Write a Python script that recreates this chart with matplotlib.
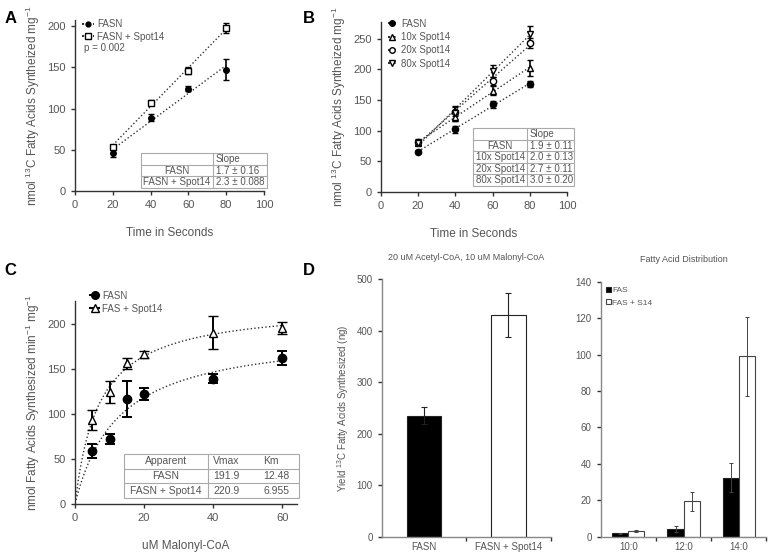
import numpy as np
import matplotlib
matplotlib.use('Agg')
import matplotlib.pyplot as plt
from matplotlib.patches import Rectangle

plt.rcParams['font.family'] = ['Liberation Sans', 'DejaVu Sans']
plt.rcParams['mathtext.fontset'] = 'custom'
plt.rcParams['mathtext.rm'] = 'Liberation Sans'

TXT = '#555555'
AX = '#333333'
GRID = '#aaaaaa'

# ---- data ----
# A: time course
a_time = [20, 40, 60, 80]
a_fasn = [46, 89, 124, 147]
a_fasn_err = [5, 4, 3, 13]
a_spot = [54, 107, 146, 197]
a_spot_err = [2, 3, 4, 6]
a_table = [['', 'Slope'], ['FASN', '1.7 ± 0.16'], ['FASN + Spot14', '2.3 ± 0.088']]

# B: titration of Spot14
b_time = [20, 40, 60, 80]
b_names = ['FASN', '10x Spot14', '20x Spot14', '80x Spot14']
b_vals = [[66, 102, 143, 176],
          [80, 123, 165, 202],
          [82, 131, 181, 243],
          [80, 128, 197, 258]]
b_errs = [[3, 5, 6, 5],
          [4, 8, 7, 13],
          [5, 7, 7, 8],
          [4, 12, 10, 12]]
b_table = [['', 'Slope'], ['FASN', '1.9 ± 0.11'], ['10x Spot14', '2.0 ± 0.13'],
           ['20x Spot14', '2.7 ± 0.11'], ['80x Spot14', '3.0 ± 0.20']]

# C: Michaelis-Menten
c_conc = [5, 10, 15, 20, 40, 60]
c_fasn = [59, 72, 116, 122, 139, 162]
c_fasn_err = [8, 6, 20, 7, 5, 8]
c_spot = [93, 124, 156, 166, 190, 195]
c_spot_err = [11, 12, 6, 4, 18, 7]
c_vmax = [191.9, 220.9]
c_km = [12.48, 6.955]

# D: yields
d_names = ['FASN', 'FASN + Spot14']
d_yield = [235, 430]
d_yield_err = [17, 42]
d_fa = ['10:0', '12:0', '14:0']
d_fas = [2, 4.5, 32.5]
d_fas_err = [0.4, 1.5, 8]
d_s14 = [3.2, 19.5, 99]
d_s14_err = [0.6, 5, 21.5]


def style(ax):
    for s in ['top', 'right']:
        ax.spines[s].set_visible(False)
    for s in ['left', 'bottom']:
        ax.spines[s].set_color(AX)
        ax.spines[s].set_linewidth(1.0)
    ax.tick_params(colors=AX, labelcolor=TXT, labelsize=8, length=3, width=1.0)


def draw_table(ax, rows, x0, x1, xsplit, y0, y1, col_x=None, fs=7):
    n = len(rows)
    ax.add_patch(Rectangle((x0, y0), x1 - x0, y1 - y0, transform=ax.transAxes,
                           facecolor='white', edgecolor=GRID, lw=0.8, clip_on=False, zorder=5))
    rh = (y1 - y0) / n
    for i in range(1, n):
        ax.plot([x0, x1], [y0 + i * rh] * 2, color=GRID, lw=0.8, transform=ax.transAxes,
                clip_on=False, zorder=6)
    ax.plot([xsplit, xsplit], [y0, y1], color=GRID, lw=0.8, transform=ax.transAxes,
            clip_on=False, zorder=6)
    if col_x is None:
        col_x = [xsplit + 0.015]
    for i, row in enumerate(rows):
        yc = y1 - (i + 0.5) * rh
        ax.text((x0 + xsplit) / 2, yc, row[0], ha='center', va='center', fontsize=fs,
                color=TXT, transform=ax.transAxes, zorder=7)
        for cx, val in zip(col_x, row[1:]):
            ax.text(cx, yc, val, ha='left', va='center', fontsize=fs, color=TXT,
                    transform=ax.transAxes, zorder=7)


fig = plt.figure(figsize=(7.68, 5.59), dpi=100)

# ---------- A ----------
axA = fig.add_axes([0.0977, 0.658, 0.246, 0.306])
style(axA)
ta = np.array(a_time)
for y, e, mk, mfc, lab in [(a_fasn, a_fasn_err, 'o', 'black', 'FASN'),
                           (a_spot, a_spot_err, 's', 'white', 'FASN + Spot14')]:
    p = np.polyfit(ta, y, 1)
    axA.plot(ta, np.polyval(p, ta), ':', color='#333333', lw=1.0)
    axA.errorbar(ta, y, yerr=e, fmt=mk, ms=4 if mk == 'o' else 5, mfc=mfc, mec='black',
                 mew=1.0, ecolor='black', elinewidth=1.2, capsize=2.5, capthick=1.2, zorder=3)
hA = [plt.Line2D([], [], ls=':', color='#333', marker='o', ms=3.5, mfc='black', mec='black'),
      plt.Line2D([], [], ls=':', color='#333', marker='s', ms=4.5, mfc='white', mec='black')]
axA.legend(hA, ['FASN', 'FASN + Spot14'], loc='upper left', bbox_to_anchor=(0.0, 1.045),
           frameon=False, fontsize=7, handlelength=1.2, handletextpad=0.4, labelcolor=TXT,
           borderaxespad=0.3, labelspacing=0.25)
axA.text(0.05, 0.82, 'p = 0.002', transform=axA.transAxes, fontsize=7, color=TXT)
axA.set_xlim(0, 100)
axA.set_ylim(0, 207)
axA.set_xticks([0, 20, 40, 60, 80, 100])
axA.set_yticks([0, 50, 100, 150, 200])
axA.set_xlabel('Time in Seconds', fontsize=8.5, color=TXT, labelpad=12)
axA.set_ylabel(r'nmol $^{13}$C Fatty Acids Syntheized mg$^{-1}$', fontsize=8.5, color=TXT)
draw_table(axA, a_table, 0.349, 1.016, 0.730, 0.018, 0.222)

# ---------- B ----------
axB = fig.add_axes([0.4958, 0.6565, 0.2426, 0.304])
style(axB)
tb = np.array(b_time)
b_marks = [('o', 'black'), ('^', 'white'), ('o', 'white'), ('v', 'white')]
hB = []
for vals, errs, (mk, mfc) in zip(b_vals, b_errs, b_marks):
    p = np.polyfit(tb, vals, 1)
    axB.plot(tb, np.polyval(p, tb), ':', color='#333333', lw=1.0)
    axB.errorbar(tb, vals, yerr=errs, fmt=mk, ms=4.5, mfc=mfc, mec='black', mew=1.0,
                 ecolor='black', elinewidth=1.2, capsize=2.5, capthick=1.2, zorder=3)
    hB.append(plt.Line2D([], [], ls=':', color='#333', marker=mk, ms=4, mfc=mfc, mec='black'))
axB.legend(hB, b_names, loc='upper left', bbox_to_anchor=(0.0, 1.06), frameon=False,
           fontsize=7, handlelength=1.0, handletextpad=0.4, labelcolor=TXT,
           borderaxespad=0.3, labelspacing=0.35)
axB.set_xlim(0, 100)
axB.set_ylim(0, 277)
axB.set_xticks([0, 20, 40, 60, 80, 100])
axB.set_yticks([0, 50, 100, 150, 200, 250])
axB.set_xlabel('Time in Seconds', fontsize=8.5, color=TXT, labelpad=12)
axB.set_ylabel(r'nmol $^{13}$C Fatty Acids Syntheized mg$^{-1}$', fontsize=8.5, color=TXT)
draw_table(axB, b_table, 0.496, 1.039, 0.786, 0.035, 0.376)

# ---------- C ----------
axC = fig.add_axes([0.0977, 0.0984, 0.289, 0.363])
style(axC)
xs = np.linspace(0.3, 60, 200)
for vm, km in zip(c_vmax, c_km):
    axC.plot(xs, vm * xs / (km + xs), ':', color='#333333', lw=1.0)
axC.errorbar(c_conc, c_fasn, yerr=c_fasn_err, fmt='o', ms=6, mfc='black', mec='black',
             ecolor='black', elinewidth=1.4, capsize=3.5, capthick=1.4, zorder=3)
axC.errorbar(c_conc, c_spot, yerr=c_spot_err, fmt='^', ms=6, mfc='white', mec='black', mew=1.0,
             ecolor='black', elinewidth=1.4, capsize=3.5, capthick=1.4, zorder=3)
hC = [plt.Line2D([], [], ls='-', color='black', marker='o', ms=5.5, mfc='black', mec='black'),
      plt.Line2D([], [], ls='-', color='black', marker='^', ms=5.5, mfc='white', mec='black')]
axC.legend(hC, ['FASN', 'FAS + Spot14'], loc='upper left', bbox_to_anchor=(0.04, 1.08),
           frameon=False, fontsize=7, handlelength=1.0, handletextpad=0.3, labelcolor=TXT,
           borderaxespad=0.2, labelspacing=0.3)
axC.set_xlim(0, 64.3)
axC.set_ylim(0, 225)
axC.set_xticks([0, 20, 40, 60])
axC.set_yticks([0, 50, 100, 150, 200])
axC.set_xlabel('uM Malonyl-CoA', fontsize=8.5, color=TXT, labelpad=12)
axC.set_ylabel(r'nmol Fatty Acids Synthesized min$^{-1}$ mg$^{-1}$', fontsize=8.5, color=TXT)
c_table = [['Apparent', 'Vmax', 'Km'],
           ['FASN', f'{c_vmax[0]:.1f}', f'{c_km[0]:.2f}'],
           ['FASN + Spot14', f'{c_vmax[1]:.1f}', f'{c_km[1]:.3f}']]
draw_table(axC, c_table, 0.221, 1.009, 0.599, 0.030, 0.246, col_x=[0.622, 0.847], fs=7.5)

# ---------- D left ----------
axD1 = fig.add_axes([0.497, 0.0394, 0.22, 0.4615])
style(axD1)
axD1.bar([0, 1], d_yield, width=0.41, color=['black', 'white'], edgecolor='#222222', lw=0.8)
axD1.errorbar([0, 1], d_yield, yerr=d_yield_err, fmt='none', ecolor='#222222',
              elinewidth=0.8, capsize=2, capthick=0.8)
axD1.set_xlim(-0.5, 1.5)
axD1.set_ylim(0, 500)
axD1.set_yticks([0, 100, 200, 300, 400, 500])
axD1.set_xticks([0.5, 1.5])
axD1.set_xticklabels([])
axD1.set_xticks([0, 1], minor=True)
axD1.set_xticklabels(d_names, minor=True)
axD1.tick_params(axis='x', which='minor', length=0, labelsize=7, labelcolor=TXT)
axD1.tick_params(axis='both', which='major', labelsize=7)
axD1.spines['bottom'].set_color('#888888')
axD1.spines['left'].set_color('#888888')
axD1.set_title('20 uM Acetyl-CoA, 10 uM Malonyl-CoA', fontsize=6.5, color=TXT, pad=14)
axD1.set_ylabel(r'Yield $^{13}$C Fatty Acids Synthesized (ng)', fontsize=7, color=TXT)

# ---------- D right ----------
axD2 = fig.add_axes([0.782, 0.0394, 0.216, 0.457])
style(axD2)
xi = np.arange(len(d_fa))
bw = 0.29
axD2.bar(xi - bw / 2, d_fas, width=bw, color='black', edgecolor='#222222', lw=0.8, label='FAS')
axD2.bar(xi + bw / 2, d_s14, width=bw, color='white', edgecolor='#444444', lw=0.8,
         label='FAS + S14')
axD2.errorbar(xi - bw / 2, d_fas, yerr=d_fas_err, fmt='none', ecolor='#444444',
              elinewidth=0.7, capsize=1.5, capthick=0.7)
axD2.errorbar(xi + bw / 2, d_s14, yerr=d_s14_err, fmt='none', ecolor='#444444',
              elinewidth=0.7, capsize=1.5, capthick=0.7)
axD2.set_xlim(-0.5, 2.5)
axD2.set_ylim(0, 140)
axD2.set_yticks(range(0, 141, 20))
axD2.set_xticks([0.5, 1.5, 2.5])
axD2.set_xticklabels([])
axD2.set_xticks(xi, minor=True)
axD2.set_xticklabels(d_fa, minor=True)
axD2.tick_params(axis='x', which='minor', length=0, labelsize=7, labelcolor=TXT)
axD2.tick_params(axis='both', which='major', labelsize=7)
axD2.spines['bottom'].set_color('#888888')
axD2.spines['left'].set_color('#888888')
axD2.legend(loc='upper left', bbox_to_anchor=(0.0, 1.0), frameon=False, fontsize=6,
            handlelength=0.6, handleheight=0.6, handletextpad=0.2, labelcolor=TXT,
            borderaxespad=0.2, labelspacing=0.6)
axD2.set_title('Fatty Acid Distribution', fontsize=6.5, color=TXT, pad=14)

# panel letters
for lab, x, y in [('A', 0.006, 0.98), ('B', 0.395, 0.98), ('C', 0.006, 0.53), ('D', 0.395, 0.53)]:
    fig.text(x, y, lab, fontsize=12, fontweight='bold', va='top', color='black')

fig.savefig('out.png', dpi=100)
